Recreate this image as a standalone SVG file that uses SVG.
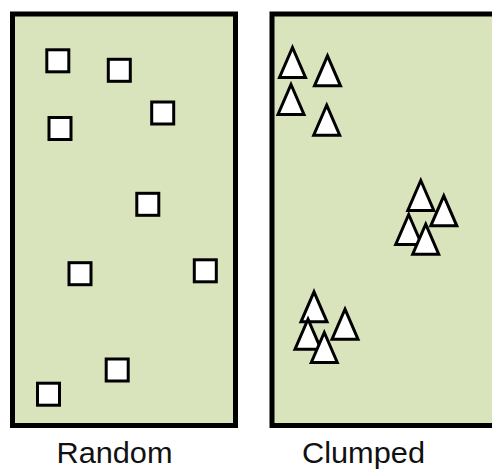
<svg xmlns="http://www.w3.org/2000/svg" xmlns:xlink="http://www.w3.org/1999/xlink" width="492" height="469" viewBox="0 0 492 469">
  <style>
    .panel { fill: #d9e4bd; stroke: #000; stroke-width: 5; }
    .sq { fill: #fff; stroke: #000; stroke-width: 3; }
    .tri { fill: #fff; stroke: #000; stroke-width: 3; stroke-linejoin: miter; }
    .label { font-family: "Liberation Sans", Arial, sans-serif; font-size: 29px; fill: #111; }
  </style>
  <defs>
    <path id="t" d="M0,0 L13,30 L-13,30 Z"/>
  </defs>
  <rect width="492" height="469" fill="#fff"/>
  <g id="random">
    <rect class="panel" x="12.5" y="14" width="223" height="411.5"/>
    <g id="squares">
      <rect class="sq" x="46.8" y="49.8" width="22" height="22"/>
      <rect class="sq" x="108.3" y="59.3" width="22" height="22"/>
      <rect class="sq" x="151.7" y="102" width="22" height="22"/>
      <rect class="sq" x="49" y="117.5" width="22" height="22"/>
      <rect class="sq" x="136.8" y="193.3" width="22" height="22"/>
      <rect class="sq" x="69" y="262.7" width="22" height="22"/>
      <rect class="sq" x="194.3" y="259.8" width="22" height="22"/>
      <rect class="sq" x="106.2" y="359" width="22" height="22"/>
      <rect class="sq" x="37.5" y="383.2" width="22" height="22"/>
    </g>
    <text class="label" x="56.5" y="462.5" textLength="116" lengthAdjust="spacingAndGlyphs">Random</text>
  </g>
  <g id="clumped">
    <rect class="panel" x="272" y="14" width="240" height="411.5"/>
    <g id="triangles">
      <use xlink:href="#t" class="tri" transform="translate(292.5,47.5)"/>
      <use xlink:href="#t" class="tri" transform="translate(327.5,55.8)"/>
      <use xlink:href="#t" class="tri" transform="translate(291,84.5)"/>
      <use xlink:href="#t" class="tri" transform="translate(326.7,105.2)"/>
      <use xlink:href="#t" class="tri" transform="translate(420.8,180.5)"/>
      <use xlink:href="#t" class="tri" transform="translate(443.8,195.8)"/>
      <use xlink:href="#t" class="tri" transform="translate(408.7,214.5)"/>
      <use xlink:href="#t" class="tri" transform="translate(425.7,224.2)"/>
      <use xlink:href="#t" class="tri" transform="translate(314,291.8)"/>
      <use xlink:href="#t" class="tri" transform="translate(345,309.2)"/>
      <use xlink:href="#t" class="tri" transform="translate(308,319.2)"/>
      <use xlink:href="#t" class="tri" transform="translate(324.3,332.5)"/>
    </g>
    <text class="label" x="302" y="462.5" textLength="123" lengthAdjust="spacingAndGlyphs">Clumped</text>
  </g>
</svg>
